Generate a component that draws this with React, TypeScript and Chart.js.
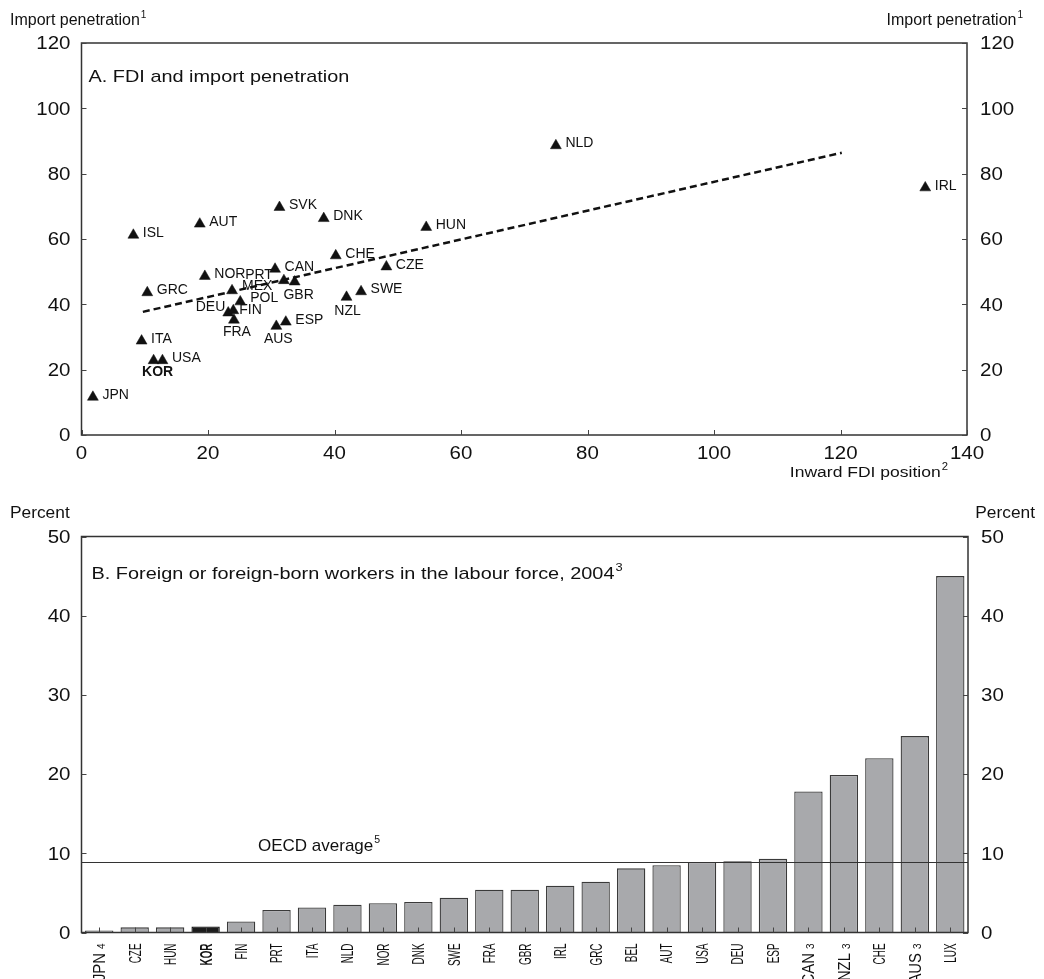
import React, { useEffect, useRef } from 'react';
import Chart from 'chart.js/auto';

const FONT = "'Liberation Sans', Arial, Helvetica, sans-serif";
const TEXT = '#111111';
const LINE = '#333333';

// ---------- Panel A: FDI and import penetration ----------
const countriesA = ['JPN', 'ISL', 'AUT', 'SVK', 'DNK', 'HUN', 'CHE', 'CZE', 'CAN', 'NOR', 'PRT', 'GBR', 'GRC', 'MEX', 'POL', 'SWE', 'NZL', 'DEU', 'FIN', 'FRA', 'ESP', 'AUS', 'ITA', 'KOR', 'USA', 'NLD', 'IRL'];
const fdiPosition = [1.8, 8.2, 18.7, 31.3, 38.3, 54.5, 40.2, 48.2, 30.6, 19.5, 32.0, 33.7, 10.4, 23.8, 25.1, 44.2, 41.9, 23.2, 24.0, 24.1, 32.3, 30.8, 9.5, 11.4, 12.8, 75.0, 133.4];
const importPenetration = [11.6, 61.2, 64.6, 69.7, 66.3, 63.6, 54.9, 51.5, 50.8, 48.6, 47.3, 46.9, 43.6, 44.2, 40.8, 43.9, 42.2, 37.4, 38.1, 35.2, 34.6, 33.3, 28.8, 22.8, 22.8, 88.6, 75.7];
const trendX = [9.7, 120.2];
const trendY = [37.7, 86.4];
const xTickLabelsA = [0, 20, 40, 60, 80, 100, 120, 140];
const yTickLabelsA = [0, 20, 40, 60, 80, 100, 120];

// ---------- Panel B: Foreign or foreign-born workers ----------
const countriesB = ['JPN', 'CZE', 'HUN', 'KOR', 'FIN', 'PRT', 'ITA', 'NLD', 'NOR', 'DNK', 'SWE', 'FRA', 'GBR', 'IRL', 'GRC', 'BEL', 'AUT', 'USA', 'DEU', 'ESP', 'CAN', 'NZL', 'CHE', 'AUS', 'LUX'];
const countryNotesB = ['4', '', '', '', '', '', '', '', '', '', '', '', '', '', '', '', '', '', '', '', '3', '3', '', '3', ''];
const foreignWorkerShare = [0.25, 0.65, 0.65, 0.75, 1.4, 2.85, 3.15, 3.5, 3.7, 3.85, 4.4, 5.4, 5.4, 5.9, 6.4, 8.1, 8.5, 8.9, 9.0, 9.3, 17.8, 19.9, 22.0, 24.8, 45.0];
const oecdAverage = 8.9;
const yTickLabelsB = [0, 10, 20, 30, 40, 50];

// label placement for scatter labels: [align, dx, dy]
const labelPlacement: Record<string, [string, number, number]> = {
  KOR: ['center', 4, 12],
  DEU: ['right', -3, -6],
  FRA: ['center', 3, 12.5],
  AUS: ['center', 2, 13],
  NZL: ['center', 1, 13.5],
  GBR: ['center', 4, 13],
  PRT: ['right', -11, -5],
  MEX: ['left', 10, -4],
  POL: ['left', 10, -4],
  FIN: ['left', 6, -0.5],
};

type TxtOpts = { size: number; weight?: string; align?: string; stretch?: number; baseline?: CanvasTextBaseline };

function txt(ctx: CanvasRenderingContext2D, s: string, x: number, y: number, o: TxtOpts) {
  const st = o.stretch ?? 1;
  ctx.save();
  ctx.font = `${o.weight ?? 'normal'} ${o.size}px ${FONT}`;
  ctx.fillStyle = TEXT;
  ctx.textBaseline = o.baseline ?? 'alphabetic';
  ctx.textAlign = 'left';
  const w = ctx.measureText(s).width * st;
  const x0 = o.align === 'right' ? x - w : o.align === 'center' ? x - w / 2 : x;
  ctx.translate(x0, y);
  ctx.scale(st, 1);
  ctx.fillText(s, 0, 0);
  ctx.restore();
  return w;
}

function txtSup(ctx: CanvasRenderingContext2D, main: string, sup: string, x: number, y: number,
  o: { size: number; supSize: number; stretch?: number; align?: string }) {
  const st = o.stretch ?? 1;
  ctx.save();
  ctx.font = `normal ${o.size}px ${FONT}`;
  const wm = ctx.measureText(main).width * st;
  ctx.font = `normal ${o.supSize}px ${FONT}`;
  const ws = ctx.measureText(sup).width * st;
  ctx.restore();
  const gap = 1;
  const total = wm + gap + ws;
  const x0 = o.align === 'right' ? x - total : o.align === 'center' ? x - total / 2 : x;
  txt(ctx, main, x0, y, { size: o.size, stretch: st });
  if (sup) txt(ctx, sup, x0 + wm + gap, y - o.size * 0.42, { size: o.supSize, stretch: st });
}

function drawFrame(ctx: CanvasRenderingContext2D, a: any) {
  ctx.save();
  ctx.strokeStyle = LINE;
  ctx.lineWidth = 1.5;
  ctx.strokeRect(a.left, a.top, a.right - a.left, a.bottom - a.top);
  ctx.restore();
}

function innerTicksY(ctx: CanvasRenderingContext2D, scale: any, a: any, values: number[]) {
  ctx.save();
  ctx.strokeStyle = '#444';
  ctx.lineWidth = 1;
  values.forEach((v) => {
    const py = Math.round(scale.getPixelForValue(v)) + 0.5;
    ctx.beginPath();
    ctx.moveTo(a.left, py); ctx.lineTo(a.left + 5, py);
    ctx.moveTo(a.right, py); ctx.lineTo(a.right - 5, py);
    ctx.stroke();
  });
  ctx.restore();
}

function innerTicksX(ctx: CanvasRenderingContext2D, pixels: number[], a: any) {
  ctx.save();
  ctx.strokeStyle = '#444';
  ctx.lineWidth = 1;
  pixels.forEach((px) => {
    const x = Math.round(px) + 0.5;
    ctx.beginPath();
    ctx.moveTo(x, a.bottom); ctx.lineTo(x, a.bottom - 5);
    ctx.stroke();
  });
  ctx.restore();
}

const TICK_SIZE = 17.5;
const TICK_STRETCH = 1.17;

function yLabels(ctx: CanvasRenderingContext2D, scale: any, a: any, values: number[]) {
  values.forEach((v) => {
    const py = scale.getPixelForValue(v) + TICK_SIZE * 0.716 / 2;
    txt(ctx, String(v), a.left - 11, py, { size: TICK_SIZE, stretch: TICK_STRETCH, align: 'right' });
    txt(ctx, String(v), a.right + 13, py, { size: TICK_SIZE, stretch: TICK_STRETCH, align: 'left' });
  });
}

const panelAPlugin = {
  id: 'panelA',
  afterDraw(chart: any) {
    const { ctx, chartArea: a, scales } = chart;
    drawFrame(ctx, a);
    innerTicksY(ctx, scales.y, a, yTickLabelsA);
    innerTicksX(ctx, xTickLabelsA.map((v) => scales.x.getPixelForValue(v)), a);
    yLabels(ctx, scales.y, a, yTickLabelsA);
    xTickLabelsA.forEach((v) => {
      txt(ctx, String(v), scales.x.getPixelForValue(v), a.bottom + 24, { size: TICK_SIZE, stretch: TICK_STRETCH, align: 'center' });
    });
    // point labels
    const meta = chart.getDatasetMeta(0);
    meta.data.forEach((el: any, i: number) => {
      const name = countriesA[i];
      const p = labelPlacement[name] ?? ['left', 9.5, -2];
      txt(ctx, name, el.x + p[1], el.y + p[2], {
        size: 14, align: p[0], baseline: 'middle', weight: name === 'KOR' ? 'bold' : 'normal',
      });
    });
    // titles
    txtSup(ctx, 'Import penetration', '1', 10, a.top - 18, { size: 16, supSize: 10 });
    txtSup(ctx, 'Import penetration', '1', a.right + 56, a.top - 18, { size: 16, supSize: 10, align: 'right' });
    txt(ctx, 'A. FDI and import penetration', a.left + 7, a.top + 39, { size: 17, stretch: 1.17 });
    txtSup(ctx, 'Inward FDI position', '2', a.right - 19, a.bottom + 42, { size: 15.5, supSize: 10, stretch: 1.13, align: 'right' });
  },
};

const panelBPlugin = {
  id: 'panelB',
  afterDraw(chart: any) {
    const { ctx, chartArea: a, scales } = chart;
    // OECD average line
    const ly = Math.round(scales.y.getPixelForValue(oecdAverage)) + 0.5;
    ctx.save();
    ctx.strokeStyle = LINE;
    ctx.lineWidth = 1.2;
    ctx.beginPath();
    ctx.moveTo(a.left, ly); ctx.lineTo(a.right, ly);
    ctx.stroke();
    ctx.restore();
    drawFrame(ctx, a);
    innerTicksY(ctx, scales.y, a, yTickLabelsB);
    const xs = scales.x;
    innerTicksX(ctx, countriesB.map((_, i) => xs.getPixelForValue(i)), a);
    yLabels(ctx, scales.y, a, yTickLabelsB);
    // rotated category labels
    const LS = 16.5;
    countriesB.forEach((c, i) => {
      const px = xs.getPixelForValue(i);
      const note = countryNotesB[i];
      ctx.save();
      ctx.fillStyle = TEXT;
      ctx.translate(px, a.bottom + 11);
      ctx.rotate(-Math.PI / 2);
      ctx.textBaseline = 'alphabetic';
      ctx.textAlign = 'right';
      const base = LS * 0.716 / 2;
      let end = 0;
      if (note) {
        ctx.font = `normal 10px ${FONT}`;
        const wn = ctx.measureText(note).width;
        ctx.fillText(note, 0, base);
        end = -(wn + 4);
        ctx.translate(end, 0);
        ctx.scale(0.9, 1);
      } else {
        ctx.scale(0.6, 1);
      }
      ctx.font = `${c === 'KOR' ? 'bold' : 'normal'} ${LS}px ${FONT}`;
      ctx.fillText(c, 0, base);
      ctx.restore();
    });
    txt(ctx, 'Percent', 10, a.top - 19, { size: 16.5, stretch: 1.05 });
    txt(ctx, 'Percent', a.right + 67, a.top - 19, { size: 16.5, stretch: 1.05, align: 'right' });
    txtSup(ctx, 'B. Foreign or foreign-born workers in the labour force, 2004', '3', a.left + 10, a.top + 42, { size: 17, supSize: 11, stretch: 1.17 });
    txtSup(ctx, 'OECD average', '5', a.left + 176.5, ly - 12, { size: 17, supSize: 10.5 });
  },
};

const hiddenAxis = {
  ticks: { display: false },
  grid: { display: false },
  border: { display: false },
};

export default function App() {
  const topRef = useRef<HTMLCanvasElement>(null);
  const botRef = useRef<HTMLCanvasElement>(null);

  useEffect(() => {
    const c1 = new Chart(topRef.current as HTMLCanvasElement, {
      type: 'scatter',
      data: {
        datasets: [
          {
            data: countriesA.map((_, i) => ({ x: fdiPosition[i], y: importPenetration[i] })),
            pointStyle: 'triangle',
            pointRadius: 6.3,
            backgroundColor: '#111',
            borderColor: '#111',
            borderWidth: 0.5,
          } as any,
          {
            type: 'line',
            data: trendX.map((x, i) => ({ x, y: trendY[i] })),
            showLine: true,
            borderColor: '#111',
            borderWidth: 2.5,
            borderDash: [7, 4],
            pointRadius: 0,
            fill: false,
          } as any,
        ],
      },
      options: {
        responsive: false,
        animation: false,
        events: [],
        layout: { padding: { top: 43, left: 0, right: 0, bottom: 0 } },
        plugins: { legend: { display: false }, tooltip: { enabled: false } },
        scales: {
          x: { type: 'linear', min: 0, max: 140, ...hiddenAxis, ticks: { display: false, stepSize: 20 }, afterFit: (s: any) => { s.height = 55; } },
          y: { type: 'linear', position: 'left', min: 0, max: 120, ...hiddenAxis, ticks: { display: false, stepSize: 20 }, afterFit: (s: any) => { s.width = 81.5; } },
          y2: { type: 'linear', axis: 'y', position: 'right', min: 0, max: 120, ...hiddenAxis, ticks: { display: false, stepSize: 20 }, afterFit: (s: any) => { s.width = 77; } },
        } as any,
      },
      plugins: [panelAPlugin],
    });

    const c2 = new Chart(botRef.current as HTMLCanvasElement, {
      type: 'bar',
      data: {
        labels: countriesB,
        datasets: [
          {
            data: foreignWorkerShare,
            backgroundColor: countriesB.map((c) => (c === 'KOR' ? '#1c1c1c' : '#a8a9ac')),
            borderColor: countriesB.map((c) => (c === 'KOR' ? '#111' : '#3a3a3a')),
            borderWidth: 1.3,
            barPercentage: 0.8,
            categoryPercentage: 1.0,
          },
        ],
      },
      options: {
        responsive: false,
        animation: false,
        events: [],
        layout: { padding: { top: 46.5, left: 0, right: 0, bottom: 0 } },
        plugins: { legend: { display: false }, tooltip: { enabled: false } },
        scales: {
          x: { type: 'category', ...hiddenAxis, afterFit: (s: any) => { s.height = 46.5; } },
          y: { type: 'linear', position: 'left', min: 0, max: 50, ...hiddenAxis, ticks: { display: false, stepSize: 10 }, afterFit: (s: any) => { s.width = 81.5; } },
          y2: { type: 'linear', axis: 'y', position: 'right', min: 0, max: 50, ...hiddenAxis, ticks: { display: false, stepSize: 10 }, afterFit: (s: any) => { s.width = 76; } },
        } as any,
      },
      plugins: [panelBPlugin],
    });

    return () => {
      c1.destroy();
      c2.destroy();
    };
  }, []);

  return (
    <div style={{ position: 'absolute', left: 0, top: 0, width: 1044, height: 979, overflow: 'hidden', background: '#fff' }}>
      <canvas ref={topRef} width={1044} height={490} style={{ position: 'absolute', left: 0, top: 0, width: 1044, height: 490 }} />
      <canvas ref={botRef} width={1044} height={489} style={{ position: 'absolute', left: 0, top: 490, width: 1044, height: 489 }} />
    </div>
  );
}
